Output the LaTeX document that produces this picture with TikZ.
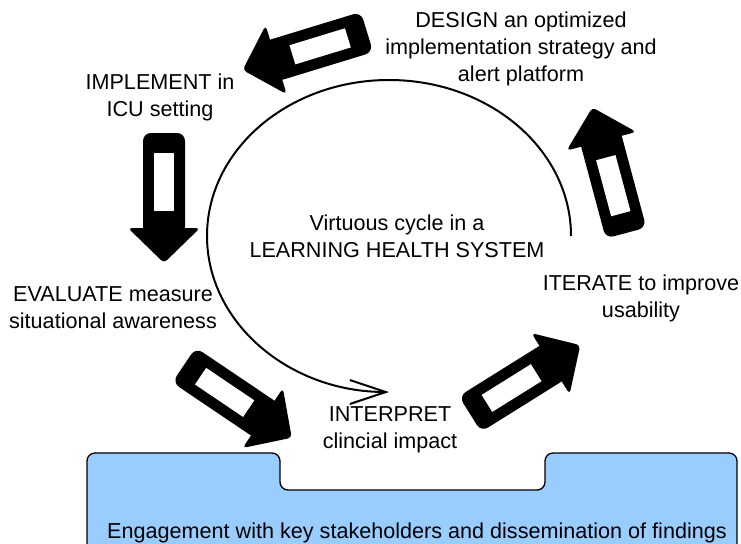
\documentclass[tikz,border=0pt]{standalone}
\usepackage{fontspec}
\setmainfont{Liberation Sans}
\usepackage{tikz}
\usetikzlibrary{positioning,arrows.meta}

\definecolor{panelblue}{RGB}{153,204,255}

\tikzset{
  stagetext/.style={align=center, inner sep=0pt, font=\fontsize{16.2}{20.25}\selectfont},
  cycleline/.style={line width=1.5pt, -{Straight Barb[length=27pt,width=18pt,line width=1.5pt]}},
  bigarrow/.pic={
    \fill[rounded corners=6pt] (0,-21) rectangle (102,21);
    \fill[rounded corners=3pt] (95,-36) -- (130,0) -- (95,36) -- cycle;
    \fill[white] (20,-10) rectangle (78,10);
  }
}

\begin{document}
\begin{tikzpicture}[x=0.75pt,y=0.75pt,yscale=-1,xscale=1]
\useasboundingbox (0,0) rectangle (741,543);

%Shape: engagement band along the bottom
\draw[fill=panelblue, line width=1pt, rounded corners=6pt] (87,570) -- (87,453) -- (280,453) -- (280,490) -- (545,490) -- (545,453) -- (737,453) -- (737,570);

%Texts
\node[stagetext] (design) at (521,49) {DESIGN an optimized\\implementation strategy and\\alert platform};
\node[stagetext] (implement) at (160,97) {IMPLEMENT in\\ICU setting};
\node[stagetext] (evaluate) at (113,308) {EVALUATE measure\\situational awareness};
\node[stagetext] (interpret) at (390,430) {INTERPRET\\clincial impact};
\node[stagetext] (iterate) at (641,298) {ITERATE to improve\\usability};
\node[stagetext] (centre) at (397,236) {Virtuous cycle in a\\LEARNING HEALTH SYSTEM};
\node[stagetext, anchor=base] (engage) at (417,538) {Engagement with key stakeholders and dissemination of findings};

%Shape: the cycle
\coordinate (cyclestart) at (571,236);
\draw[cycleline] (cyclestart) arc[start angle=0, end angle=-270, x radius=182, y radius=156];

%Shape: block arrows, tail first
\pic[rotate=-163] at (367,32) {bigarrow};
\pic[rotate=-90] at (164,133) {bigarrow};
\pic[rotate=-34] at (184,365) {bigarrow};
\pic[rotate=32] at (470,414) {bigarrow};
\pic[rotate=105] at (626,233) {bigarrow};

\end{tikzpicture}
\end{document}
